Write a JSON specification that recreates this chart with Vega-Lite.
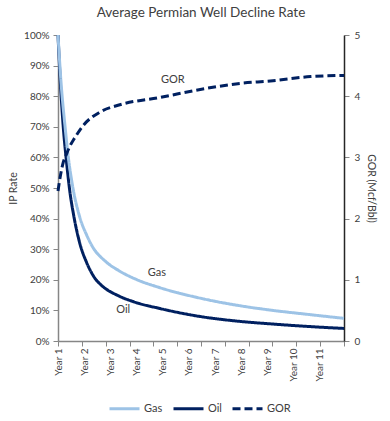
{
  "$schema": "https://vega.github.io/schema/vega-lite/v6.json",
  "width": 286,
  "height": 306,
  "autosize": {"type": "none"},
  "padding": {"left": 58, "top": 35, "right": 46, "bottom": 80},
  "background": "white",
  "config": {
    "font": "Lato",
    "view": {"stroke": null},
    "axis": {"grid": false, "labelColor": "#404040", "titleColor": "#404040", "titleFontWeight": "normal", "labelFontSize": 10, "titleFontSize": 10.5}
  },
  "title": {"text": "Average Permian Well Decline Rate", "fontSize": 13.5, "fontWeight": "normal", "color": "#404040", "offset": 10, "anchor": "middle"},
  "datasets": {
    "rates": [
      {"series": "Oil", "year": 1.0, "rate": 1.0},
      {"series": "Oil", "year": 1.1, "rate": 0.83},
      {"series": "Oil", "year": 1.2, "rate": 0.7},
      {"series": "Oil", "year": 1.32, "rate": 0.59},
      {"series": "Oil", "year": 1.45, "rate": 0.49},
      {"series": "Oil", "year": 1.6, "rate": 0.41},
      {"series": "Oil", "year": 1.83, "rate": 0.32},
      {"series": "Oil", "year": 2.1, "rate": 0.255},
      {"series": "Oil", "year": 2.41, "rate": 0.205},
      {"series": "Oil", "year": 2.66, "rate": 0.182},
      {"series": "Oil", "year": 3.3, "rate": 0.148},
      {"series": "Oil", "year": 3.86, "rate": 0.129},
      {"series": "Oil", "year": 4.9, "rate": 0.106},
      {"series": "Oil", "year": 6.43, "rate": 0.08},
      {"series": "Oil", "year": 7.96, "rate": 0.064},
      {"series": "Oil", "year": 9.11, "rate": 0.056},
      {"series": "Oil", "year": 10.64, "rate": 0.047},
      {"series": "Oil", "year": 11.9167, "rate": 0.041},
      {"series": "Gas", "year": 1.0, "rate": 1.0},
      {"series": "Gas", "year": 1.12, "rate": 0.84},
      {"series": "Gas", "year": 1.27, "rate": 0.7},
      {"series": "Gas", "year": 1.38, "rate": 0.61},
      {"series": "Gas", "year": 1.57, "rate": 0.5},
      {"series": "Gas", "year": 1.83, "rate": 0.405},
      {"series": "Gas", "year": 2.1, "rate": 0.345},
      {"series": "Gas", "year": 2.34, "rate": 0.305},
      {"series": "Gas", "year": 2.79, "rate": 0.262},
      {"series": "Gas", "year": 3.36, "rate": 0.228},
      {"series": "Gas", "year": 3.94, "rate": 0.203},
      {"series": "Gas", "year": 4.9, "rate": 0.174},
      {"series": "Gas", "year": 6.43, "rate": 0.14},
      {"series": "Gas", "year": 7.96, "rate": 0.115},
      {"series": "Gas", "year": 9.11, "rate": 0.101},
      {"series": "Gas", "year": 10.64, "rate": 0.086},
      {"series": "Gas", "year": 11.9167, "rate": 0.074}
    ],
    "gor": [
      {"series": "GOR", "year": 1.0, "gor": 2.45},
      {"series": "GOR", "year": 1.1, "gor": 2.72},
      {"series": "GOR", "year": 1.2, "gor": 2.92},
      {"series": "GOR", "year": 1.32, "gor": 3.05},
      {"series": "GOR", "year": 1.45, "gor": 3.18},
      {"series": "GOR", "year": 1.64, "gor": 3.32},
      {"series": "GOR", "year": 1.96, "gor": 3.52},
      {"series": "GOR", "year": 2.6, "gor": 3.74},
      {"series": "GOR", "year": 3.36, "gor": 3.86},
      {"series": "GOR", "year": 4.9, "gor": 3.98},
      {"series": "GOR", "year": 6.43, "gor": 4.11},
      {"series": "GOR", "year": 7.96, "gor": 4.21},
      {"series": "GOR", "year": 9.11, "gor": 4.25},
      {"series": "GOR", "year": 10.64, "gor": 4.32},
      {"series": "GOR", "year": 11.9167, "gor": 4.34}
    ],
    "notes": [
      {"label": "GOR", "year": 5.38, "rate": 0.853},
      {"label": "Gas", "year": 4.77, "rate": 0.221},
      {"label": "Oil", "year": 3.49, "rate": 0.101}
    ]
  },
  "layer": [
    {
      "data": {"name": "rates"},
      "mark": {"type": "line", "interpolate": "monotone", "strokeWidth": 3},
      "encoding": {
        "x": {
          "field": "year", "type": "quantitative",
          "scale": {"domain": [1, 11.9167], "nice": false, "zero": false},
          "axis": {"orient": "bottom", "title": null, "values": [1, 2, 3, 4, 5, 6, 7, 8, 9, 10, 11], "labelExpr": "'Year ' + datum.value", "labelAngle": -90, "labelFontSize": 10, "labelPadding": 7, "ticks": false, "domainColor": "#868686", "domainWidth": 1.5}
        },
        "y": {
          "field": "rate", "type": "quantitative",
          "scale": {"domain": [0, 1], "nice": false},
          "axis": {"orient": "left", "title": "IP Rate", "format": ".0%", "values": [0, 0.1, 0.2, 0.3, 0.4, 0.5, 0.6, 0.7, 0.8, 0.9, 1], "domainColor": "#868686", "domainWidth": 1.5, "tickColor": "#868686", "tickSize": 5, "labelPadding": 4, "titlePadding": 5}
        },
        "color": {
          "field": "series", "type": "nominal",
          "scale": {"domain": ["Gas", "Oil", "GOR"], "range": ["#9DC3E6", "#002060", "#002060"]},
          "legend": {"orient": "none", "legendX": 50, "legendY": 357, "direction": "horizontal", "title": null, "symbolType": "stroke", "symbolSize": 900, "symbolStrokeWidth": 3, "labelFontSize": 11, "labelColor": "#404040", "columnPadding": 4, "labelOffset": 3, "padding": 0}
        },
        "strokeDash": {
          "field": "series", "type": "nominal",
          "scale": {"domain": ["Gas", "Oil", "GOR"], "range": [[1, 0], [1, 0], [8, 4]]},
          "legend": {"orient": "none", "legendX": 50, "legendY": 357, "direction": "horizontal", "title": null, "symbolType": "stroke", "symbolSize": 900, "symbolStrokeWidth": 3, "labelFontSize": 11, "labelColor": "#404040", "columnPadding": 4, "labelOffset": 3, "padding": 0}
        }
      }
    },
    {
      "data": {"name": "gor"},
      "mark": {"type": "line", "interpolate": "monotone", "strokeWidth": 3},
      "encoding": {
        "x": {
          "field": "year", "type": "quantitative",
          "scale": {"domain": [1, 11.9167], "nice": false, "zero": false},
          "axis": {"orient": "bottom", "title": null, "values": [1, 1.9097, 2.8194, 3.7292, 4.6389, 5.5486, 6.4583, 7.3681, 8.2778, 9.1875, 10.0972, 11.0069, 11.9167], "labels": false, "domain": false, "ticks": true, "tickSize": 5, "tickColor": "#868686"}
        },
        "y": {
          "field": "gor", "type": "quantitative",
          "scale": {"domain": [0, 5], "nice": false},
          "axis": {"orient": "right", "title": "GOR (Mcf/Bbl)", "values": [0, 1, 2, 3, 4, 5], "domainColor": "#262626", "domainWidth": 1.5, "tickColor": "#868686", "tickSize": 5, "labelPadding": 5, "titlePadding": 6}
        },
        "color": {"field": "series", "type": "nominal", "scale": {"domain": ["Gas", "Oil", "GOR"], "range": ["#9DC3E6", "#002060", "#002060"]}},
        "strokeDash": {"field": "series", "type": "nominal", "scale": {"domain": ["Gas", "Oil", "GOR"], "range": [[1, 0], [1, 0], [8, 4]]}}
      }
    },
    {
      "data": {"name": "notes"},
      "mark": {"type": "text", "fontSize": 11, "color": "#404040", "align": "center", "baseline": "middle"},
      "encoding": {
        "x": {"field": "year", "type": "quantitative", "scale": {"domain": [1, 11.9167], "nice": false, "zero": false}, "axis": null},
        "y": {"field": "rate", "type": "quantitative", "scale": {"domain": [0, 1], "nice": false}, "axis": null},
        "text": {"field": "label"}
      }
    }
  ],
  "resolve": {"scale": {"y": "independent"}, "axis": {"x": "independent", "y": "independent"}}
}
